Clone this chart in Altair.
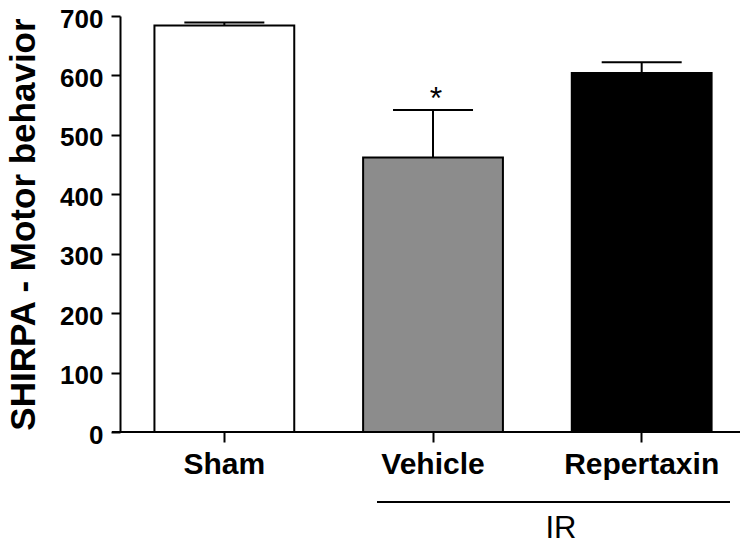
import altair as alt
import pandas as pd

# ---- data ----
groups = ["Sham", "Vehicle", "Repertaxin"]
means = [684, 462, 604]
upper = [689, 542, 622]
fills = ["#ffffff", "#8c8c8c", "#000000"]
stars = ["", "*", ""]
y_ticks = [0, 100, 200, 300, 400, 500, 600, 700]
bracket_label = ["IR"]
y_title = "SHIRPA - Motor behavior"

FONT = "Liberation Sans"
W, H = 620, 416

df = pd.DataFrame({"group": groups, "mean": means, "upper": upper,
                   "fill": fills, "star": stars})
one = pd.DataFrame({"label": bracket_label})

x_enc = alt.X(
    "group:N", sort=groups, title=None,
    scale=alt.Scale(paddingInner=0.33, paddingOuter=0.1506, align=0.548),
    axis=alt.Axis(labelAngle=0, labelFont=FONT, labelFontSize=30,
                  labelFontWeight="bold", labelColor="black",
                  domain=False, tickSize=10, tickWidth=2, tickColor="black",
                  labelPadding=7),
)

y_axis = alt.Axis(values=y_ticks, grid=False, labelFont=FONT, labelFontSize=26,
                  labelFontWeight="bold", labelColor="black", tickSize=9,
                  tickWidth=2, tickColor="black", domainWidth=2,
                  domainColor="black", labelPadding=8, labelOffset=3,
                  titleFont=FONT, titleFontSize=35, titleFontWeight="bold",
                  titleColor="black", titleX=-86, titleBaseline="alphabetic")
y_scale = alt.Scale(domain=[0, 700], nice=False)

base = alt.Chart(df)

bars = base.mark_bar(stroke="black", strokeWidth=2).encode(
    x=x_enc,
    y=alt.Y("mean:Q", scale=y_scale, axis=y_axis, title=y_title),
    fill=alt.Fill("fill:N", scale=None),
)

err = base.mark_rule(color="black", strokeWidth=2).encode(
    x=x_enc,
    y=alt.Y("mean:Q", title=y_title),
    y2="upper:Q",
)

cap = base.mark_tick(size=80, thickness=2, color="black", opacity=1).encode(
    x=x_enc,
    y=alt.Y("upper:Q", title=y_title),
)

star = base.transform_filter(alt.datum.star != "").mark_text(
    font=FONT, fontSize=32, baseline="alphabetic", dx=3, dy=-1, color="black"
).encode(
    x=x_enc,
    y=alt.Y("upper:Q", title=y_title),
    text="star:N",
)

x_line = alt.Chart(one).mark_rule(color="black", strokeWidth=2).encode(
    x=alt.value(-8), x2=alt.value(W), y=alt.value(H)
)

ir_line = alt.Chart(one).mark_rule(color="black", strokeWidth=2).encode(
    x=alt.value(257), x2=alt.value(610), y=alt.value(486)
)

ir_text = alt.Chart(one).mark_text(
    font=FONT, fontSize=31, align="center", baseline="alphabetic", color="black"
).encode(
    x=alt.value(441), y=alt.value(522), text="label:N"
)

chart = alt.layer(bars, err, cap, star, x_line, ir_line, ir_text).properties(
    width=W, height=H,
    autosize=alt.AutoSizeParams(type="none"),
    padding={"left": 112, "top": 8, "right": 0, "bottom": 108},
).configure_view(stroke=None).configure_axis(grid=False)

chart.save("out.html", embed_options={"renderer": "svg", "actions": False})
